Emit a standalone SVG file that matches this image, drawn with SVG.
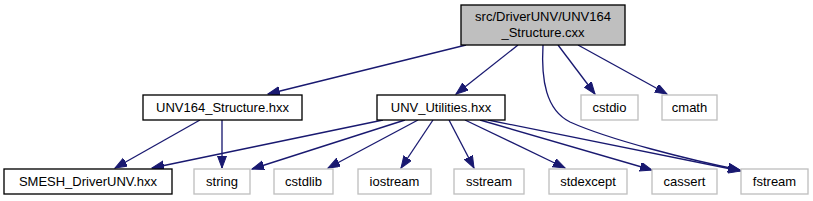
<svg xmlns="http://www.w3.org/2000/svg" width="813" height="201" viewBox="0 0 813 201">
<style>
.n rect{fill:#ffffff;stroke:#000000;stroke-width:1.33}
.n.ext rect{stroke:#bfbfbf}
.n.main rect{fill:#bfbfbf}
text{font-family:"Liberation Sans",Arial,sans-serif;font-size:13px;fill:#000000;text-anchor:middle}
.e path{fill:none;stroke:#191970;stroke-width:1.33}
</style>
<defs>
<marker id="ah" markerUnits="userSpaceOnUse" markerWidth="14" markerHeight="10" refX="12" refY="4.5" orient="auto">
<path d="M0,0 L12,4.5 L0,9 z" fill="#191970" stroke="#191970" stroke-width="1"/>
</marker>
</defs>
<g id="edges" class="e">
<path d="M466,45 L268,94" marker-end="url(#ah)"/>
<path d="M518,45 L456,94" marker-end="url(#ah)"/>
<path d="M543,45 C541,80 546,110 570,122 C610,140 690,160 740,170" marker-end="url(#ah)"/>
<path d="M558,45 L595,94" marker-end="url(#ah)"/>
<path d="M578,45 L667,94" marker-end="url(#ah)"/>
<path d="M200,120 L115,168" marker-end="url(#ah)"/>
<path d="M222,120 L222,168" marker-end="url(#ah)"/>
<path d="M383,120 L152,168" marker-end="url(#ah)"/>
<path d="M405,120 L252,169" marker-end="url(#ah)"/>
<path d="M418,120 L328,168" marker-end="url(#ah)"/>
<path d="M433,120 L401,168" marker-end="url(#ah)"/>
<path d="M449,120 L474,168" marker-end="url(#ah)"/>
<path d="M465,120 L565,168" marker-end="url(#ah)"/>
<path d="M480,120 L652,170" marker-end="url(#ah)"/>
<path d="M488,120 L741,171" marker-end="url(#ah)"/>
</g>
<g id="node-main" class="n main">
<rect x="461" y="5" width="164" height="40"/>
<text x="543" y="21">src/DriverUNV/UNV164</text>
<text x="543" y="37">_Structure.cxx</text>
</g>
<g id="node-unv164-structure" class="n">
<rect x="143" y="95" width="159" height="25"/>
<text x="222.5" y="112">UNV164_Structure.hxx</text>
</g>
<g id="node-unv-utilities" class="n">
<rect x="377" y="95" width="128" height="25"/>
<text x="441" y="112">UNV_Utilities.hxx</text>
</g>
<g id="node-cstdio" class="n ext">
<rect x="581" y="95" width="57" height="25"/>
<text x="609.5" y="112">cstdio</text>
</g>
<g id="node-cmath" class="n ext">
<rect x="662" y="95" width="55" height="25"/>
<text x="689.5" y="112">cmath</text>
</g>
<g id="node-smesh-driverunv" class="n">
<rect x="4" y="169" width="168" height="25"/>
<text x="88" y="186">SMESH_DriverUNV.hxx</text>
</g>
<g id="node-string" class="n ext">
<rect x="194" y="169" width="56" height="25"/>
<text x="222" y="186">string</text>
</g>
<g id="node-cstdlib" class="n ext">
<rect x="274" y="169" width="59" height="25"/>
<text x="303.5" y="186">cstdlib</text>
</g>
<g id="node-iostream" class="n ext">
<rect x="358" y="169" width="73" height="25"/>
<text x="394.5" y="186">iostream</text>
</g>
<g id="node-sstream" class="n ext">
<rect x="454" y="169" width="70" height="25"/>
<text x="489" y="186">sstream</text>
</g>
<g id="node-stdexcept" class="n ext">
<rect x="549" y="169" width="78" height="25"/>
<text x="588" y="186">stdexcept</text>
</g>
<g id="node-cassert" class="n ext">
<rect x="652" y="169" width="65" height="25"/>
<text x="684.5" y="186">cassert</text>
</g>
<g id="node-fstream" class="n ext">
<rect x="741" y="169" width="67" height="25"/>
<text x="774.5" y="186">fstream</text>
</g>
</svg>
